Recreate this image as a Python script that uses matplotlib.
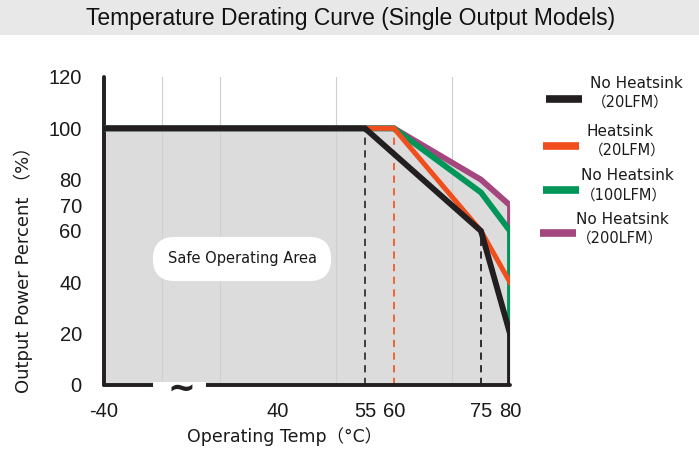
import numpy as np
import matplotlib
matplotlib.use("Agg")
import matplotlib.pyplot as plt
from matplotlib.patches import Rectangle
from matplotlib.lines import Line2D

# ---------------- data ----------------
series_names = ["No Heatsink\n（20LFM）", "Heatsink\n（20LFM）",
                "No Heatsink\n（100LFM）", "No Heatsink\n（200LFM）"]
temp_black = [-40, 55, 75, 80, 80]
power_black = [100, 100, 60, 20, 0]
temp_orange = [-40, 60, 75, 80]
power_orange = [100, 100, 60, 40]
temp_green = [-40, 60, 75, 80, 80]
power_green = [100, 100, 75, 60, 20]
temp_purple = [-40, 60, 75, 80, 80]
power_purple = [100, 100, 80, 70, 60]
envelope_temp = [-40, 60, 75, 80]
envelope_power = [100, 100, 80, 70]
x_ticks = [-40, 40, 55, 60, 75, 80]
y_ticks = [0, 20, 40, 60, 70, 80, 100, 120]
y_grid = [20, 40, 60, 80, 100, 120]
dashed_temps = [55, 60, 75]
dashed_tops = [100, 100, 60]

colors = ["#231f20", "#f04e1c", "#00965a", "#a4477e"]
dash_colors = ["#333333", "#f05a28", "#231f20"]

# broken axis: compress -40..40
K = 0.375
def fwd(x):
    x = np.asarray(x, dtype=float)
    return np.where(x >= 40, x, 40 + (x - 40) * K)
def inv(y):
    y = np.asarray(y, dtype=float)
    return np.where(y >= 40, y, 40 + (y - 40) / K)

x_grid = [float(inv(20)), float(inv(30)), 40, 50, 60, 70, 80]

W, H = 699, 454
fig = plt.figure(figsize=(W / 100, H / 100), dpi=100)

# title band
fig.patches.append(Rectangle((0, 1 - 35 / H), 1, 35 / H, transform=fig.transFigure,
                             facecolor="#e8e8e8", edgecolor="none", zorder=0))
fig.text(351 / W, 1 - 18 / H, "Temperature Derating Curve (Single Output Models)",
         ha="center", va="center", fontsize=16.5, family="Liberation Sans", color="#111111")

ax = fig.add_axes([104 / W, 1 - 385 / H, 406 / W, 308 / H])
ax.set_xscale("function", functions=(fwd, inv))
ax.set_xlim(-40, 80)
ax.set_ylim(0, 120)

ax.fill_between(envelope_temp, envelope_power, 0, color="#dcdcdc", lw=0, zorder=1)

for xv, top, c in zip(dashed_temps, dashed_tops, dash_colors):
    ax.plot([xv, xv], [0, top], color=c, lw=1.3, ls=(0, (4, 3)), zorder=2)

ax.plot(temp_purple, power_purple, color=colors[3], lw=4.2, solid_joinstyle="miter", zorder=3)
ax.plot(temp_green, power_green, color=colors[2], lw=4.2, solid_joinstyle="miter", zorder=4)
ax.plot(temp_orange, power_orange, color=colors[1], lw=3.6, solid_joinstyle="miter", zorder=5)
ax.plot(temp_black, power_black, color=colors[0], lw=4.2, solid_joinstyle="miter", zorder=6)

ax.set_xticks(x_ticks)
ax.set_xticklabels([str(v) for v in x_ticks])
ax.set_yticks(y_ticks)
ax.set_xticks(x_grid, minor=True)
ax.set_yticks(y_grid, minor=True)
ax.tick_params(which="both", length=0)
ax.tick_params(axis="y", pad=16, labelsize=14.5)
ax.tick_params(axis="x", pad=12, labelsize=14.5)
for lab in ax.get_xticklabels() + ax.get_yticklabels():
    lab.set_family("Liberation Sans")
    lab.set_color("#1a1a1a")
ax.grid(which="minor", color="#cfcfcf", lw=0.8)
ax.grid(which="major", visible=False)

for s in ["top", "right"]:
    ax.spines[s].set_visible(False)
for s in ["left", "bottom"]:
    ax.spines[s].set_linewidth(2.8)
    ax.spines[s].set_color("#231f20")
    ax.spines[s].set_capstyle("round")

# axis break
ax.add_patch(Rectangle(((153 - 104) / 406, -0.03), (206 - 153) / 406, 0.04,
                       transform=ax.transAxes, facecolor="white", edgecolor="none",
                       clip_on=False, zorder=10))
ax.text((181 - 104) / 406, -0.012, "~", transform=ax.transAxes, ha="center", va="center",
        fontsize=24, fontweight="bold", color="#231f20", clip_on=False, zorder=11)

fam = ["DejaVu Sans", "Noto Sans CJK SC"]
ax.set_ylabel("Output Power Percent （%）", fontsize=13, family=fam, color="#1a1a1a")
ax.yaxis.set_label_coords((33 - 104) / 406, (385 - 265) / 308)
ax.set_xlabel("Operating Temp（°C）", fontsize=12.5, family=fam, color="#1a1a1a")
ax.xaxis.set_label_coords((285 - 104) / 406, (385 - 427) / 308)

ax.text((242 - 104) / 406, (385 - 259) / 308, "Safe Operating Area", transform=ax.transAxes,
        ha="center", va="center", fontsize=10.5, family=fam, color="#1a1a1a", zorder=12,
        bbox=dict(boxstyle="round,pad=1.0,rounding_size=1.5", facecolor="white", edgecolor="none"))

# legend (manual)
leg_line_y = [99, 146, 190, 233]
leg_line_x0 = [546, 543, 543, 540]
leg_top_y = [83, 131, 175, 219]
leg_top_x = [590, 587, 581, 576]
leg_bot_y = [102, 150, 195, 238]
leg_bot_x = [592, 589, 581, 577]
for i, name in enumerate(series_names):
    top, bot = name.split("\n")
    fig.add_artist(Line2D([leg_line_x0[i] / W, (leg_line_x0[i] + 36) / W],
                          [1 - leg_line_y[i] / H, 1 - leg_line_y[i] / H],
                          transform=fig.transFigure, color=colors[i], lw=5.5,
                          solid_capstyle="butt"))
    fig.text(leg_top_x[i] / W, 1 - leg_top_y[i] / H, top, ha="left", va="center",
             fontsize=11, family=fam, color="#1a1a1a")
    fig.text(leg_bot_x[i] / W, 1 - leg_bot_y[i] / H, bot, ha="left", va="center",
             fontsize=10.5, family=fam, color="#1a1a1a")

fig.savefig("out.png", dpi=100)
